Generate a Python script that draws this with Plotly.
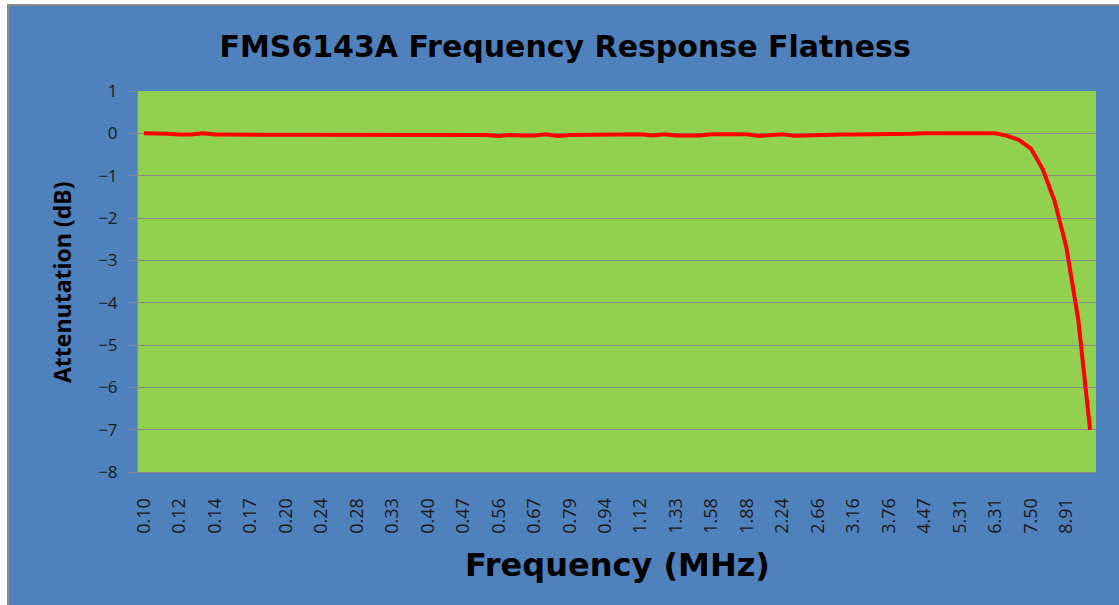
import plotly.graph_objects as go

# Frequency categories (MHz), log-spaced, 40 per decade
freqs_mhz = [
    0.1000, 0.1059, 0.1122, 0.1189, 0.1259, 0.1334, 0.1413, 0.1496, 0.1585, 0.1679,
    0.1778, 0.1884, 0.1995, 0.2113, 0.2239, 0.2371, 0.2512, 0.2661, 0.2818, 0.2985,
    0.3162, 0.3349, 0.3548, 0.3758, 0.3981, 0.4217, 0.4467, 0.4732, 0.5012, 0.5309,
    0.5623, 0.5957, 0.6310, 0.6683, 0.7079, 0.7499, 0.7943, 0.8414, 0.8913, 0.9441,
    1.0000, 1.0593, 1.1220, 1.1885, 1.2589, 1.3335, 1.4125, 1.4962, 1.5849, 1.6788,
    1.7783, 1.8836, 1.9953, 2.1135, 2.2387, 2.3714, 2.5119, 2.6607, 2.8184, 2.9854,
    3.1623, 3.3497, 3.5481, 3.7584, 3.9811, 4.2170, 4.4668, 4.7315, 5.0119, 5.3088,
    5.6234, 5.9566, 6.3096, 6.6834, 7.0795, 7.4989, 7.9433, 8.4140, 8.9125, 9.4406,
    10.0000,
]

# Attenuation (dB)
attenuation_db = [
    0.00, 0.00, -0.01, -0.03, -0.03, 0.00, -0.03, -0.03, -0.03, -0.03,
    -0.03, -0.03, -0.03, -0.03, -0.03, -0.03, -0.03, -0.03, -0.03, -0.03,
    -0.03, -0.03, -0.03, -0.03, -0.03, -0.03, -0.03, -0.03, -0.05, -0.04,
    -0.06, -0.04, -0.05, -0.05, -0.02, -0.06, -0.04, -0.04, -0.04, -0.04,
    -0.04, -0.03, -0.02, -0.05, -0.02, -0.05, -0.05, -0.05, -0.02, -0.02,
    -0.02, -0.02, -0.06, -0.03, -0.02, -0.06, -0.05, -0.03, -0.03, -0.03,
    -0.03, -0.03, -0.03, -0.03, -0.03, -0.01, 0.00, 0.00, 0.00, 0.02,
    0.02, 0.02, 0.00, -0.06, -0.16, -0.36, -0.85, -1.60, -2.70, -4.40,
    -7.00,
]

label_step = 3
y_ticks = [1, 0, -1, -2, -3, -4, -5, -6, -7, -8]

title_text = "FMS6143A Frequency Response Flatness"
x_title = "Frequency (MHz)"
y_title = "Attenutation (dB)"

categories = [f"{f:.4f}" for f in freqs_mhz]
tick_vals = categories[::label_step]
tick_text = [f"{f:.2f}" for f in freqs_mhz[::label_step]]

BLUE = "#4F81BD"
GREEN = "#92D050"
GRID = "#898989"
EDGE = "#8c8c8c"

W, H = 1119, 605
L, R, T, B = 138, 23, 91, 133
pw, ph = W - L - R, H - T - B

def px_x(p):
    return (p - L) / pw

def px_y(p):
    return (H - B - p) / ph

fig = go.Figure()
fig.add_trace(go.Scatter(
    x=categories, y=attenuation_db, mode="lines",
    line=dict(color="#FF0000", width=4),
    hoverinfo="x+y", showlegend=False,
))

frame_shapes = [
    # white strips on the left and top edges, then a thin grey rim
    dict(type="rect", xref="paper", yref="paper", layer="below",
         x0=px_x(-5), x1=px_x(7), y0=px_y(H + 5), y1=px_y(-5),
         fillcolor="white", line=dict(width=0)),
    dict(type="rect", xref="paper", yref="paper", layer="below",
         x0=px_x(-5), x1=px_x(W + 5), y0=px_y(4), y1=px_y(-5),
         fillcolor="white", line=dict(width=0)),
    dict(type="line", xref="paper", yref="paper", layer="below",
         x0=px_x(8), x1=px_x(8), y0=px_y(H + 5), y1=px_y(5),
         line=dict(color=EDGE, width=2)),
    dict(type="line", xref="paper", yref="paper", layer="below",
         x0=px_x(8), x1=px_x(W + 5), y0=px_y(5), y1=px_y(5),
         line=dict(color=EDGE, width=2)),
]

fig.update_layout(
    width=W, height=H,
    margin=dict(l=L, r=R, t=T, b=B, pad=0),
    paper_bgcolor=BLUE,
    plot_bgcolor=GREEN,
    showlegend=False,
    title=dict(
        text=title_text, xref="container", yref="container",
        x=0.505, y=1 - 46 / H, xanchor="center", yanchor="middle",
        font=dict(family="DejaVu Sans", size=30, color="black", weight="bold"),
    ),
    xaxis=dict(
        type="category", range=[-0.5, len(categories) - 0.5],
        tickmode="array", tickvals=tick_vals, ticktext=tick_text,
        tickangle=-90, ticks="", showgrid=False,
        showline=True, linecolor=GRID, linewidth=1,
        tickfont=dict(family="Open Sans", size=18, color="#1a1a1a"),
        ticklabelstandoff=18,
    ),
    yaxis=dict(
        range=[-8, 1], tickmode="array", tickvals=y_ticks,
        ticks="outside", ticklen=8, tickcolor=GRID, tickwidth=1,
        showgrid=True, gridcolor=GRID, gridwidth=1,
        zeroline=True, zerolinecolor=GRID, zerolinewidth=1,
        showline=True, linecolor=GRID, linewidth=1,
        tickfont=dict(family="Open Sans", size=17, color="#1a1a1a"),
        ticklabelstandoff=8,
    ),
    shapes=frame_shapes,
    annotations=[
        dict(text=x_title, xref="paper", yref="paper", x=0.5, y=px_y(565),
             xanchor="center", yanchor="middle", showarrow=False,
             font=dict(family="DejaVu Sans", size=32, color="black", weight="bold")),
        dict(text=y_title, xref="paper", yref="paper", x=px_x(62), y=px_y(283),
             xanchor="center", yanchor="middle", showarrow=False, textangle=-90,
             font=dict(family="Open Sans", size=23, color="black", weight="bold")),
    ],
)

fig.write_html("out.html", config={"displayModeBar": False},
               post_script="document.body.style.margin='0';")
